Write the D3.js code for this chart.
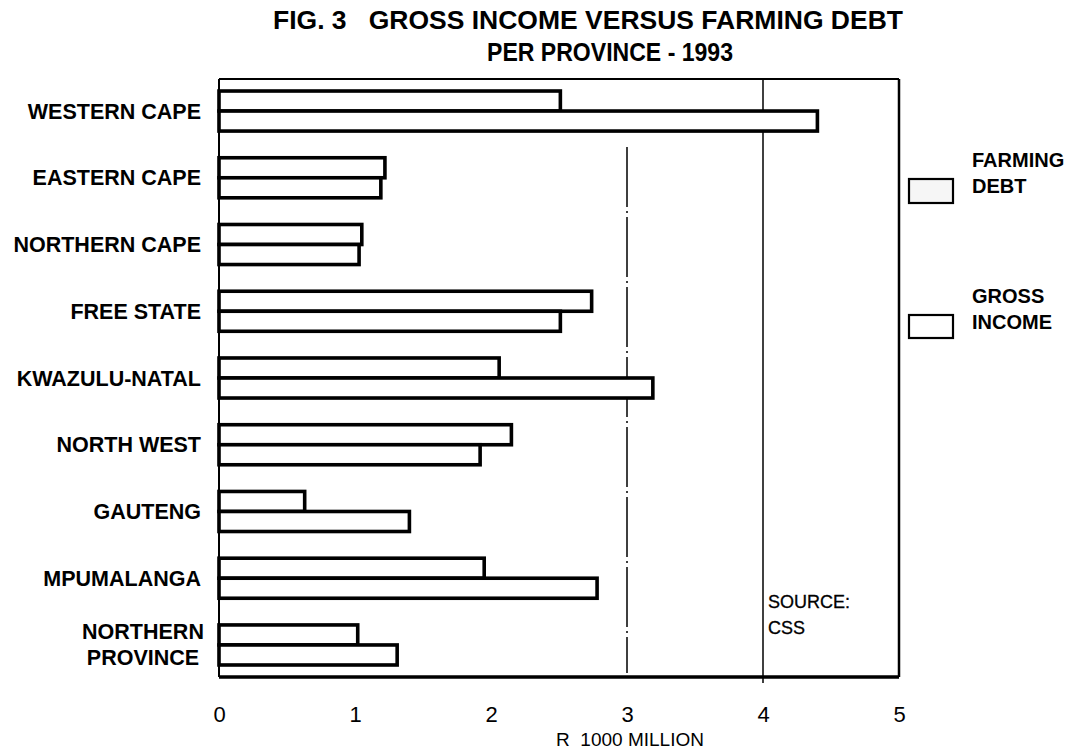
<!DOCTYPE html>
<html>
<head>
<meta charset="utf-8">
<script src="https://cdn.jsdelivr.net/npm/d3@7"></script>
<style>
  html, body { margin: 0; padding: 0; background: #fff; }
  svg { display: block; font-family: "Liberation Sans", Arial, sans-serif; }
</style>
</head>
<body>
<svg id="chart" width="1074" height="749"></svg>
<script>
// ---- data ----
const provinces = ["WESTERN CAPE", "EASTERN CAPE", "NORTHERN CAPE", "FREE STATE",
  "KWAZULU-NATAL", "NORTH WEST", "GAUTENG", "MPUMALANGA", "NORTHERN\nPROVINCE"];
const farmingDebt = [2.51, 1.22, 1.05, 2.74, 2.06, 2.15, 0.63, 1.95, 1.02];
const grossIncome = [4.40, 1.19, 1.03, 2.51, 3.19, 1.92, 1.40, 2.78, 1.31];
const xTicks = [0, 1, 2, 3, 4, 5];
const seriesNames = [["FARMING", "DEBT"], ["GROSS", "INCOME"]];
const titleLines = ["FIG. 3   GROSS INCOME VERSUS FARMING DEBT", "PER PROVINCE - 1993"];
const xAxisTitle = "R  1000 MILLION";
const sourceLines = ["SOURCE:", "CSS"];

// ---- layout ----
const L = 219, R = 899, T = 79, B = 677;
const svg = d3.select("#chart");

const x = d3.scaleLinear().domain([0, 5]).range([L, R]);
const y = d3.scaleBand().domain(provinces).range([T, B]).paddingInner(0.4).paddingOuter(0.18);
const sub = d3.scaleBand().domain(["debt", "income"]).range([0, y.bandwidth()]);

// title
svg.append("text").attr("x", 588).attr("y", 29).attr("text-anchor", "middle")
  .attr("font-size", 26).attr("font-weight", "bold")
  .attr("textLength", 630).attr("lengthAdjust", "spacingAndGlyphs")
  .attr("xml:space", "preserve").text(titleLines[0]);
svg.append("text").attr("x", 610).attr("y", 61).attr("text-anchor", "middle")
  .attr("font-size", 26).attr("font-weight", "bold")
  .attr("textLength", 246).attr("lengthAdjust", "spacingAndGlyphs")
  .text(titleLines[1]);

// gridlines at 3 and 4
svg.append("line").attr("x1", x(3)).attr("x2", x(3)).attr("y1", 147).attr("y2", 673)
  .attr("stroke", "#000").attr("stroke-width", 1.5).attr("stroke-dasharray", "60,4,2,4");
svg.append("line").attr("x1", x(4)).attr("x2", x(4)).attr("y1", T).attr("y2", B + 6)
  .attr("stroke", "#000").attr("stroke-width", 1.5);

// bars
const rows = provinces.map((p, i) => ({ p, debt: farmingDebt[i], income: grossIncome[i] }));
const g = svg.append("g");
rows.forEach(r => {
  [["debt", r.debt], ["income", r.income]].forEach(([k, v]) => {
    g.append("rect")
      .attr("x", x(0))
      .attr("y", y(r.p) + sub(k))
      .attr("width", x(v) - x(0))
      .attr("height", sub.bandwidth())
      .attr("fill", "#fff")
      .attr("stroke", "#000")
      .attr("stroke-width", 3.6);
  });
});

// frame
svg.append("line").attr("x1", L).attr("x2", R).attr("y1", T).attr("y2", T).attr("stroke", "#000").attr("stroke-width", 2);
svg.append("line").attr("x1", L).attr("x2", L).attr("y1", T).attr("y2", B).attr("stroke", "#000").attr("stroke-width", 2);
svg.append("line").attr("x1", R).attr("x2", R).attr("y1", T).attr("y2", B).attr("stroke", "#000").attr("stroke-width", 2.5);
svg.append("line").attr("x1", L).attr("x2", R).attr("y1", B).attr("y2", B).attr("stroke", "#000").attr("stroke-width", 3.5);

// x axis labels
const xAxis = d3.axisBottom(x).tickValues(xTicks).tickSize(0).tickPadding(29).tickFormat(d3.format("d"));
const ax = svg.append("g").attr("transform", `translate(0,${B})`).call(xAxis);
ax.select(".domain").remove();
ax.selectAll("text").attr("font-size", 22).attr("font-family", "Liberation Sans, Arial, sans-serif").attr("fill", "#000");

svg.append("text").attr("x", 630).attr("y", 746).attr("text-anchor", "middle")
  .attr("font-size", 19).attr("xml:space", "preserve").text(xAxisTitle);

// y labels
provinces.forEach(p => {
  const lines = p.split("\n");
  const cy = y(p) + y.bandwidth() / 2;
  const lh = 26;
  const t = svg.append("text").attr("font-size", 21.5).attr("font-weight", "bold")
    .attr("text-anchor", lines.length > 1 ? "middle" : "end");
  if (lines.length === 1) {
    t.attr("x", 201).attr("y", cy + 7.5).text(lines[0]);
  } else {
    lines.forEach((ln, i) => {
      t.append("tspan").attr("x", 143).attr("y", cy + 7.5 + (i - (lines.length - 1) / 2) * lh).text(ln);
    });
  }
});

// legend
const legendBoxes = [{ y: 179, h: 24, fill: "#f6f6f6" }, { y: 315, h: 23, fill: "#fff" }];
seriesNames.forEach((names, i) => {
  const b = legendBoxes[i];
  svg.append("rect").attr("x", 909).attr("y", b.y).attr("width", 44).attr("height", b.h)
    .attr("fill", b.fill).attr("stroke", "#000").attr("stroke-width", 2.2);
  names.forEach((n, j) => {
    svg.append("text").attr("x", 972).attr("y", b.y - 12 + j * 26).attr("font-size", 20)
      .attr("font-weight", "bold").text(n);
  });
});

// source note
sourceLines.forEach((s, i) => {
  svg.append("text").attr("x", 768).attr("y", 608 + i * 26).attr("font-size", 18)
    .attr("stroke", "#000").attr("stroke-width", 0.3).text(s);
});
</script>
</body>
</html>
